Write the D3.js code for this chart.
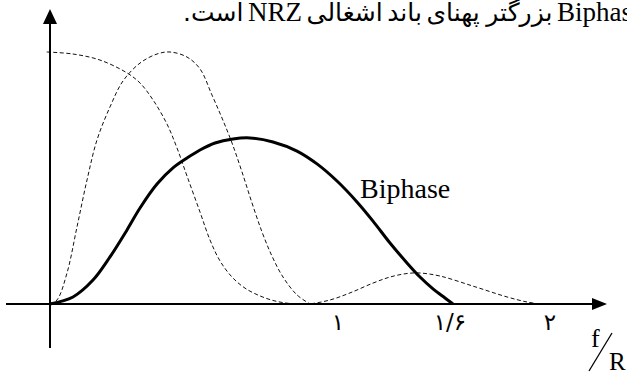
<!DOCTYPE html>
<html><head><meta charset="utf-8">
<script src="https://cdn.jsdelivr.net/npm/d3@7"></script>
<style>html,body{margin:0;padding:0;background:#fff;overflow:hidden}</style>
</head><body>
<svg id="c" width="627" height="374"></svg>
<script>
// NRZ power spectrum (dashed: main lobe + first side lobe), f/R vs relative level
const nrzSpectrum = [
  [-0.013,1.0],[0.092,0.992],[0.2,0.968],[0.308,0.917],[0.36,0.877],[0.412,0.81],
  [0.468,0.714],[0.508,0.619],[0.548,0.508],[0.6,0.365],[0.64,0.254],[0.68,0.171],
  [0.728,0.107],[0.78,0.063],[0.84,0.032],[0.9,0.012],[0.96,0.002],[1.032,0],
  [1.12,0.016],[1.2,0.044],[1.292,0.083],[1.36,0.107],[1.428,0.121],[1.48,0.123],
  [1.56,0.111],[1.692,0.071],[1.828,0.028],[1.908,0.008],[1.96,0]
];
// Second dashed spectrum (single hump)
const humpSpectrum = [
  [0,0],[0.028,0.016],[0.068,0.123],[0.108,0.306],[0.148,0.492],[0.188,0.651],
  [0.24,0.782],[0.292,0.885],[0.36,0.956],[0.428,0.992],[0.48,1.0],[0.548,0.98],
  [0.6,0.933],[0.648,0.829],[0.688,0.738],[0.728,0.639],[0.768,0.524],[0.808,0.401],
  [0.848,0.286],[0.888,0.19],[0.932,0.107],[0.988,0.036],[1.04,0]
];
// Biphase spectrum (solid, thick)
const biphaseSpectrum = [
  [0,0],[0.092,0.028],[0.172,0.095],[0.24,0.187],[0.308,0.294],[0.36,0.381],
  [0.428,0.476],[0.492,0.54],[0.548,0.579],[0.6,0.611],[0.66,0.639],[0.732,0.655],
  [0.8,0.659],[0.892,0.643],[0.988,0.607],[1.068,0.556],[1.148,0.488],[1.228,0.405],
  [1.292,0.329],[1.36,0.242],[1.428,0.163],[1.48,0.107],[1.532,0.06],[1.58,0.024],[1.612,0]
];
const tickAt = [1.152, 1.6, 2.0];
const tickLabels = ['۱', '۱/۶', '۲'];
const seriesLabel = 'Biphase';
const captionText = 'Biphase بزرگتر پهنای باند اشغالی NRZ است.';
const axisLabelTop = 'f', axisLabelBottom = 'R';

const svg = d3.select('#c');
const x = d3.scaleLinear().domain([0, 2]).range([50, 550]);
const y = d3.scaleLinear().domain([0, 1]).range([304, 52]);
const serif = "'Liberation Serif','Times New Roman',serif";
const arabicFont = "'DejaVu Sans',sans-serif";

const line = d3.line().x(d => x(d[0])).y(d => y(d[1])).curve(d3.curveCatmullRom.alpha(0.5));

// dashed spectra
[nrzSpectrum, humpSpectrum].forEach(s => {
  svg.append('path').attr('d', line(s)).attr('fill', 'none')
    .attr('stroke', '#111').attr('stroke-width', 1).attr('stroke-dasharray', '4,2.5');
});
// biphase
svg.append('path').attr('d', line(biphaseSpectrum)).attr('fill', 'none')
  .attr('stroke', '#000').attr('stroke-width', 3).attr('stroke-linejoin', 'round');

// axes
const x0 = x(0), y0 = y(0), xr = x.range()[1], yt = y.range()[1];
svg.append('line').attr('x1', x0 - 44).attr('x2', xr + 45).attr('y1', y0).attr('y2', y0)
  .attr('stroke', '#000').attr('stroke-width', 2);
svg.append('path').attr('d', `M${xr+57},${y0} L${xr+42},${y0-6} L${xr+42},${y0+6} Z`).attr('fill', '#000');
svg.append('line').attr('x1', x0).attr('x2', x0).attr('y1', y0 + 44).attr('y2', yt - 30)
  .attr('stroke', '#000').attr('stroke-width', 2);
svg.append('path').attr('d', `M${x0},${yt-43} L${x0-7},${yt-28} L${x0+7},${yt-28} Z`).attr('fill', '#000');

// tick labels (Persian digits)
svg.selectAll('text.tick').data(tickAt).enter().append('text').attr('class', 'tick')
  .attr('x', d => x(d)).attr('y', y0 + 26).attr('text-anchor', 'middle')
  .attr('font-family', arabicFont).attr('font-size', 23).attr('fill', '#000')
  .text((d, i) => tickLabels[i]);

// f/R
svg.append('text').attr('x', xr + 41).attr('y', y0 + 43).attr('font-family', serif)
  .attr('font-size', 26).text(axisLabelTop);
svg.append('line').attr('x1', xr + 39).attr('y1', y0 + 67).attr('x2', xr + 62).attr('y2', y0 + 29)
  .attr('stroke', '#000').attr('stroke-width', 1.3);
svg.append('text').attr('x', xr + 59).attr('y', y0 + 66).attr('font-family', serif)
  .attr('font-size', 25).text(axisLabelBottom);

// series label
svg.append('text').attr('x', 360).attr('y', 198).attr('font-family', serif)
  .attr('font-size', 28).text(seriesLabel);

// caption (RTL): words laid out right-to-left, justified between x=183 and x=557 (start of clipped "Biphase")
const words = captionText.split(' ');
const capG = svg.append('g');
const nodes = words.map(w => {
  const latin = /[A-Za-z]/.test(w);
  const t = capG.append('text').attr('x', 0).attr('y', 21)
    .attr('font-family', latin ? serif : arabicFont).attr('font-size', latin ? 27 : 25).text(w);
  if (!latin) t.attr('direction', 'rtl').style('unicode-bidi', 'embed');
  return t;
});
const boxes = nodes.map(t => t.node().getBBox());
const leftEnd = 183, firstLeft = 557;
nodes[0].attr('x', firstLeft - boxes[0].x);
const restW = d3.sum(boxes.slice(1), b => b.width);
const gap = (firstLeft - leftEnd - restW) / (words.length - 1);
let right = firstLeft - gap;
for (let i = 1; i < nodes.length; i++) {
  const left = right - boxes[i].width;
  nodes[i].attr('x', left - boxes[i].x);
  right = left - gap;
}
</script>
</body></html>
